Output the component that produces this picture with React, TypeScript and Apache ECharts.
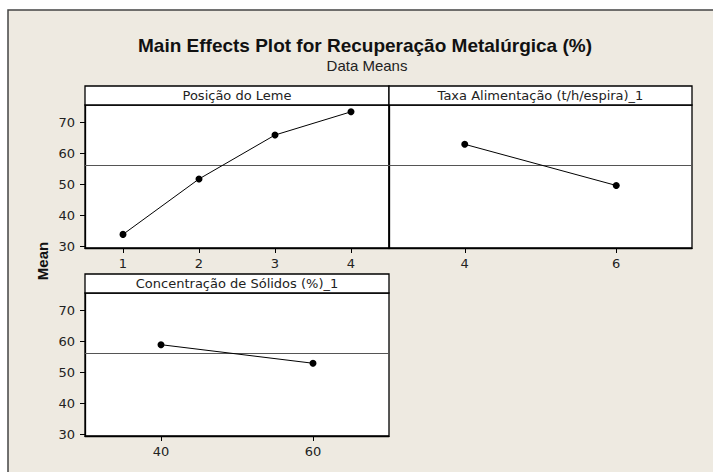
import React, { useEffect, useRef } from "react";
import * as echarts from "echarts";

// Factor levels and the mean response at each level
const posicaoLevels = [1, 2, 3, 4];
const posicaoMeans = [33.9, 51.8, 66.0, 73.5];
const taxaLevels = [4, 6];
const taxaMeans = [63.0, 49.7];
const concLevels = [40, 60];
const concMeans = [59.0, 53.0];
const grandMean = 56.1;

// Tick values
const meanTicks = [30, 40, 50, 60, 70];
const posicaoTicks = [1, 2, 3, 4];
const taxaTicks = [4, 6];
const concTicks = [40, 60];

const panelTitles = [
  "Posição do Leme",
  "Taxa Alimentação (t/h/espira)_1",
  "Concentração de Sólidos (%)_1",
];
const mainTitle = "Main Effects Plot for Recuperação Metalúrgica (%)";
const subTitle = "Data Means";
const yName = "Mean";

const TICK_FONT = "'DejaVu Sans', sans-serif";
const TITLE_FONT = "'Liberation Sans', Arial, sans-serif";

const panels = [
  { left: 85, top: 105, width: 304, height: 143, xMin: 0.5, xMax: 4.5, ticks: posicaoTicks, yLabels: true },
  { left: 389, top: 105, width: 303, height: 143, xMin: 3, xMax: 7, ticks: taxaTicks, yLabels: false },
  { left: 85, top: 293, width: 304, height: 143, xMin: 30, xMax: 70, ticks: concTicks, yLabels: true },
];
const HEADER_H = 19;
const Y_MIN = 29.5;
const Y_MAX = 75.7;
const BORDER_W = 1.3;

const seriesData = [
  posicaoLevels.map((x, i) => [x, posicaoMeans[i]]),
  taxaLevels.map((x, i) => [x, taxaMeans[i]]),
  concLevels.map((x, i) => [x, concMeans[i]]),
];

export default function App() {
  const ref = useRef<HTMLDivElement>(null);

  useEffect(() => {
    if (!ref.current) return;
    const chart = echarts.init(ref.current, undefined, { renderer: "svg" });

    const grid = panels.map((p) => ({
      left: p.left,
      top: p.top,
      width: p.width,
      height: p.height,
      show: true,
      backgroundColor: "#ffffff",
      borderColor: "#000000",
      borderWidth: BORDER_W,
      containLabel: false,
    }));

    const xAxis = panels.map((p, i) => ({
      gridIndex: i,
      type: "value",
      min: p.xMin,
      max: p.xMax,
      axisLine: { show: true, onZero: false, lineStyle: { color: "#000", width: BORDER_W } },
      axisTick: { show: true, length: 5, customValues: p.ticks, lineStyle: { color: "#000" } },
      axisLabel: {
        customValues: p.ticks,
        margin: 9,
        fontSize: 13,
        fontFamily: TICK_FONT,
        color: "#222",
      },
      splitLine: { show: false },
    }));

    const yAxis = panels.map((p, i) => ({
      gridIndex: i,
      type: "value",
      min: Y_MIN,
      max: Y_MAX,
      axisLine: { show: true, onZero: false, lineStyle: { color: "#000", width: BORDER_W } },
      axisTick: {
        show: p.yLabels,
        length: 5,
        customValues: meanTicks,
        lineStyle: { color: "#000" },
      },
      axisLabel: {
        show: p.yLabels,
        customValues: meanTicks,
        margin: 10,
        fontSize: 13,
        fontFamily: TICK_FONT,
        color: "#222",
      },
      splitLine: { show: false },
    }));

    const series = seriesData.map((data, i) => ({
      type: "line",
      xAxisIndex: i,
      yAxisIndex: i,
      data,
      symbol: "circle",
      symbolSize: 7,
      itemStyle: { color: "#000" },
      lineStyle: { color: "#000", width: 1 },
      z: 3,
      markLine: {
        silent: true,
        symbol: "none",
        label: { show: false },
        lineStyle: { color: "#555", width: 1, type: "solid" },
        data: [{ yAxis: grandMean }],
        z: 2,
      },
    }));

    // Title strip above each panel
    const headers: any[] = [];
    panels.forEach((p, i) => {
      headers.push({
        type: "rect",
        z: 10,
        shape: { x: p.left, y: p.top - HEADER_H, width: p.width, height: HEADER_H },
        style: { fill: "#ffffff", stroke: "#000000", lineWidth: BORDER_W },
      });
      headers.push({
        type: "text",
        z: 11,
        x: p.left + p.width / 2,
        y: p.top - HEADER_H / 2,
        style: {
          text: panelTitles[i],
          font: `13px ${TICK_FONT}`,
          fill: "#222",
          align: "center",
          verticalAlign: "middle",
          textAlign: "center",
          textVerticalAlign: "middle",
        },
      });
    });

    chart.setOption({
      animation: false,
      backgroundColor: "#ffffff",
      grid,
      xAxis,
      yAxis,
      series,
      graphic: [
        {
          type: "rect",
          z: -10,
          shape: { x: 8, y: 10, width: 760, height: 520 },
          style: { fill: "#EEEAE1", stroke: "#444444", lineWidth: 1.5 },
        },
        {
          type: "text",
          z: 11,
          x: 365,
          y: 45,
          style: {
            text: mainTitle,
            font: `bold 19px ${TITLE_FONT}`,
            fill: "#111",
            align: "center",
            verticalAlign: "middle",
            textAlign: "center",
            textVerticalAlign: "middle",
          },
        },
        {
          type: "text",
          z: 11,
          x: 367,
          y: 65,
          style: {
            text: subTitle,
            font: `15px ${TITLE_FONT}`,
            fill: "#222",
            align: "center",
            verticalAlign: "middle",
            textAlign: "center",
            textVerticalAlign: "middle",
          },
        },
        {
          type: "text",
          z: 11,
          x: 42,
          y: 261,
          rotation: Math.PI / 2,
          style: {
            text: yName,
            font: `bold 15px ${TITLE_FONT}`,
            fill: "#111",
            align: "center",
            verticalAlign: "middle",
            textAlign: "center",
            textVerticalAlign: "middle",
          },
        },
        ...headers,
      ],
    });

    return () => chart.dispose();
  }, []);

  return (
    <div
      ref={ref}
      style={{ position: "absolute", left: 0, top: 0, width: 713, height: 472 }}
    />
  );
}
